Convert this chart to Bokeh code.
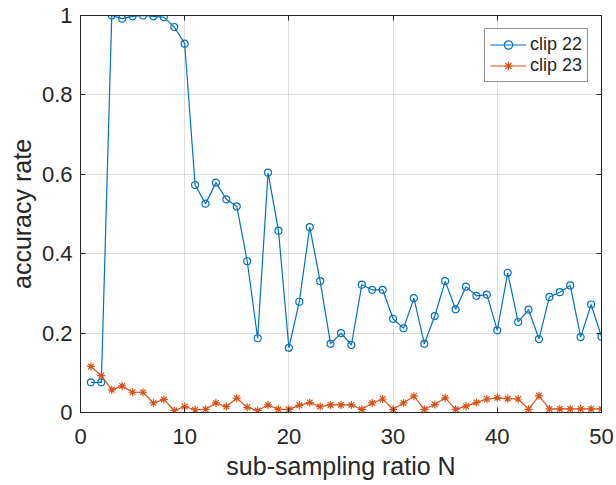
from bokeh.plotting import figure
from bokeh.models import Range1d, FixedTicker, LinearAxis, Legend, LegendItem
from bokeh.embed import file_html
from bokeh.resources import INLINE

N = list(range(1, 51))
clip22 = [0.076, 0.076, 1.000, 0.992, 0.998, 1.000, 0.998, 0.996, 0.971, 0.929,
          0.573, 0.526, 0.579, 0.537, 0.519, 0.381, 0.187, 0.604, 0.458, 0.163,
          0.279, 0.467, 0.331, 0.173, 0.200, 0.170, 0.322, 0.309, 0.309, 0.236,
          0.212, 0.288, 0.173, 0.243, 0.331, 0.260, 0.317, 0.294, 0.297, 0.207,
          0.352, 0.228, 0.259, 0.185, 0.291, 0.303, 0.320, 0.190, 0.272, 0.191]
clip23 = [0.116, 0.093, 0.057, 0.067, 0.051, 0.051, 0.024, 0.033, 0.005, 0.015,
          0.007, 0.008, 0.024, 0.015, 0.036, 0.013, 0.005, 0.019, 0.008, 0.008,
          0.018, 0.025, 0.015, 0.019, 0.019, 0.019, 0.008, 0.024, 0.034, 0.008,
          0.024, 0.041, 0.008, 0.020, 0.037, 0.008, 0.016, 0.025, 0.034, 0.037,
          0.035, 0.034, 0.008, 0.042, 0.009, 0.009, 0.009, 0.009, 0.009, 0.009]
x_ticks = [0, 10, 20, 30, 40, 50]
y_ticks = [0, 0.2, 0.4, 0.6, 0.8, 1]
y_tick_labels = ["0", "0.2", "0.4", "0.6", "0.8", "1"]
series_names = ["clip 22", "clip 23"]

FONT = "Liberation Sans"
TXT = "#262626"
BLUE = "#0072BD"
ORANGE = "#D95319"

p = figure(width=616, height=485, output_backend="svg", toolbar_location=None,
           x_range=Range1d(0, 50), y_range=Range1d(0, 1),
           min_border_left=80, min_border_right=15, min_border_top=15, min_border_bottom=73)
p.background_fill_color = "white"
p.border_fill_color = "white"
p.outline_line_color = TXT
p.outline_line_width = 1

for ax in (p.xaxis[0], p.yaxis[0]):
    ax.major_tick_in = 5
    ax.major_tick_out = 0
    ax.minor_tick_line_color = None
    ax.axis_line_color = TXT
    ax.major_tick_line_color = TXT
    ax.major_label_text_color = TXT
    ax.major_label_text_font = FONT
    ax.major_label_text_font_size = "22px"
    ax.axis_label_text_font = FONT
    ax.axis_label_text_font_size = "25px"
    ax.axis_label_text_font_style = "normal"
    ax.axis_label_text_color = TXT

p.xaxis[0].ticker = FixedTicker(ticks=x_ticks)
p.yaxis[0].ticker = FixedTicker(ticks=y_ticks)
p.yaxis[0].major_label_overrides = {t: l for t, l in zip(y_ticks, y_tick_labels)}
p.xaxis[0].axis_label = "sub-sampling ratio N"
p.yaxis[0].axis_label = "accuracy rate"
p.xaxis[0].major_label_standoff = 16
p.yaxis[0].major_label_standoff = 8
p.xaxis[0].axis_label_standoff = 5
p.yaxis[0].axis_label_standoff = 3

for loc, ticks in (("right", y_ticks), ("above", x_ticks)):
    ax = LinearAxis(ticker=FixedTicker(ticks=ticks), major_tick_in=5, major_tick_out=0,
                    minor_tick_line_color=None, major_label_text_color=None,
                    major_label_text_font_size="1px",
                    major_label_standoff=0, axis_line_color=TXT, major_tick_line_color=TXT)
    p.add_layout(ax, loc)

p.grid.grid_line_color = "#000000"
p.grid.grid_line_alpha = 0.13
p.xgrid.ticker = FixedTicker(ticks=x_ticks)
p.ygrid.ticker = FixedTicker(ticks=y_ticks)

l1 = p.line(N, clip22, line_color=BLUE, line_width=1.2)
m1 = p.scatter(N, clip22, marker="circle", size=7, line_color=BLUE, fill_color=None, line_width=1.2)
l2 = p.line(N, clip23, line_color=ORANGE, line_width=1.2)
m2 = p.scatter(N, clip23, marker="asterisk", size=8, line_color=ORANGE, line_width=1.2)

legend = Legend(items=[LegendItem(label=series_names[0], renderers=[l1, m1]),
                       LegendItem(label=series_names[1], renderers=[l2, m2])],
                location="top_right", margin=13, padding=5, spacing=0,
                glyph_width=36, glyph_height=21, label_height=21, label_standoff=4,
                label_text_font=FONT, label_text_font_size="18px", label_text_color=TXT,
                border_line_color=TXT, border_line_width=1, background_fill_alpha=1)
p.add_layout(legend, "center")

open("out.html", "w").write(file_html(p, INLINE))
